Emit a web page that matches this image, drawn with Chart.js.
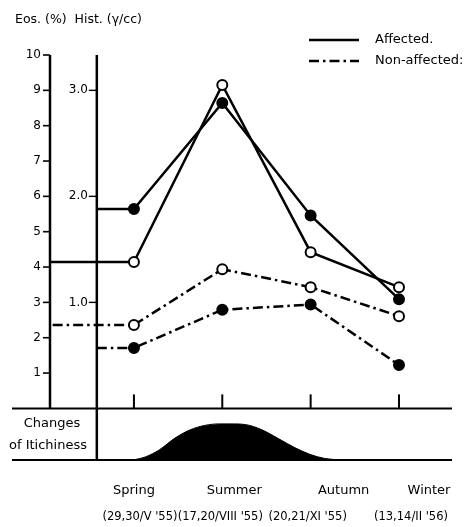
<!DOCTYPE html>
<html><head><meta charset="utf-8">
<script src="https://cdn.jsdelivr.net/npm/chart.js@4.4.1/dist/chart.umd.min.js"></script>
<style>html,body{margin:0;padding:0;background:#fff;overflow:hidden}#wrap{width:473px;height:527px;position:relative}</style>
</head><body><div id="wrap"><canvas id="c" width="473" height="527"></canvas></div>
<script>
// ---- data ----
const categories = ['Spring', 'Summer', 'Autumn', 'Winter'];
const dates = ["(29,30/V '55)", "(17,20/VIII '55)", "(20,21/XI '55)", "(13,14/II '56)"];
const eosAffected = [4.14, 9.15, 4.42, 3.43];      // open circles, Eos (%)
const histAffected = [1.88, 2.88, 1.82, 1.03];     // filled circles, Hist (γ/cc)
const eosNonAffected = [2.36, 3.94, 3.43, 2.61];   // open circles, Eos (%)
const histNonAffected = [0.57, 0.93, 0.98, 0.41];  // filled circles, Hist (γ/cc)
const itchX = [0.99, 1.13, 1.29, 1.46, 1.63, 1.80, 1.97, 2.14, 2.31, 2.48, 2.65, 2.82, 2.99, 3.16, 3.33];
const itchLevel = [0, 0.06, 0.2, 0.42, 0.58, 0.67, 0.70, 0.70, 0.67, 0.56, 0.40, 0.24, 0.11, 0.03, 0];
const eosTicks = [1, 2, 3, 4, 5, 6, 7, 8, 9, 10];
const histTicks = ['1.0', '2.0', '3.0'];
const legendLabels = ['Affected.', 'Non-affected:'];

// ---- layout constants ----
const xMin = 0.05, xMax = 4.6;
const eosMin = -1.46, eosMax = 10;
const histPerEos = 1 / 3;
const histAxisAt = 0.58;            // x value where the Hist. axis stands
const seasonNudge = [0, 12, 33, 30]; // px shift of the season captions (as printed)
const dateNudge = [6, -2, -3, 12];
const FONT = '"DejaVu Sans", sans-serif';
const dashDot = [10, 4, 2.5, 4];

const catX = categories.map((c, i) => i + 1);
function series(vals, startX) {
  return [{x: startX, y: vals[0]}].concat(vals.map((v, i) => ({x: catX[i], y: v})));
}
const hideFirst = ctx => ctx.dataIndex === 0 ? 0 : 5;

const frame = {
  id: 'frame',
  beforeDatasetsDraw(chart) {
    const {ctx, chartArea: a, scales} = chart;
    const ye = scales.yEos, yh = scales.yHist, x = scales.x;
    const y0 = ye.getPixelForValue(0);
    ctx.save();
    ctx.strokeStyle = '#000'; ctx.fillStyle = '#000';
    ctx.lineCap = 'butt';
    // Eos axis
    ctx.lineWidth = 2.5;
    ctx.beginPath(); ctx.moveTo(a.left, ye.getPixelForValue(eosMax)); ctx.lineTo(a.left, y0); ctx.stroke();
    ctx.lineWidth = 1.6;
    ctx.font = '12px ' + FONT; ctx.textAlign = 'right'; ctx.textBaseline = 'middle';
    eosTicks.forEach(t => {
      const py = ye.getPixelForValue(t);
      ctx.beginPath(); ctx.moveTo(a.left - 7, py); ctx.lineTo(a.left, py); ctx.stroke();
      ctx.fillText(String(t), a.left - 9, py);
    });
    // Hist axis
    const hx = x.getPixelForValue(histAxisAt);
    ctx.lineWidth = 2.5;
    ctx.beginPath(); ctx.moveTo(hx, ye.getPixelForValue(eosMax)); ctx.lineTo(hx, a.bottom); ctx.stroke();
    ctx.lineWidth = 1.4;
    ctx.font = '12px ' + FONT;
    histTicks.forEach(t => {
      const py = yh.getPixelForValue(parseFloat(t));
      ctx.beginPath(); ctx.moveTo(hx - 8, py); ctx.lineTo(hx, py); ctx.stroke();
      ctx.fillText(t, hx - 9, py);
    });
    // baseline and bottom line
    ctx.lineWidth = 2;
    ctx.beginPath(); ctx.moveTo(12, y0); ctx.lineTo(a.right, y0); ctx.stroke();
    ctx.beginPath(); ctx.moveTo(12, a.bottom); ctx.lineTo(a.right, a.bottom); ctx.stroke();
    // category ticks
    catX.forEach(v => {
      const px = x.getPixelForValue(v);
      ctx.beginPath(); ctx.moveTo(px, y0); ctx.lineTo(px, y0 - 14); ctx.stroke();
    });
    ctx.restore();
  },
  afterDraw(chart) {
    const {ctx, chartArea: a, scales} = chart;
    const x = scales.x, ye = scales.yEos;
    ctx.save();
    ctx.fillStyle = '#000'; ctx.strokeStyle = '#000';
    // title
    ctx.font = '12.5px ' + FONT; ctx.textAlign = 'left'; ctx.textBaseline = 'middle';
    ctx.fillText('Eos. (%)  Hist. (γ/cc)', 15, 20);
    // category labels
    ctx.textAlign = 'center';
    ctx.font = '13px ' + FONT;
    categories.forEach((c, i) => ctx.fillText(c, x.getPixelForValue(catX[i]) + seasonNudge[i], a.bottom + 31));
    ctx.font = '11.5px ' + FONT;
    dates.forEach((d, i) => ctx.fillText(d, x.getPixelForValue(catX[i]) + dateNudge[i], a.bottom + 57));
    // itchiness label
    const y0 = ye.getPixelForValue(0);
    ctx.font = '13px ' + FONT;
    ctx.fillText('Changes', 52, y0 + 15);
    ctx.fillText('of Itichiness', 48, y0 + 37);
    // legend
    ctx.textAlign = 'left';
    ctx.lineWidth = 2.5;
    [[], dashDot].forEach((dash, i) => {
      const ly = 40 + i * 21;
      ctx.setLineDash(dash);
      ctx.beginPath(); ctx.moveTo(309, ly); ctx.lineTo(359, ly); ctx.stroke();
      ctx.setLineDash([]);
      ctx.font = '13px ' + FONT;
      ctx.fillText(legendLabels[i], 375, ly);
    });
    ctx.restore();
  }
};

const lineBase = {borderColor: '#000', borderWidth: 2.5, pointBorderColor: '#000', pointBorderWidth: 2,
  pointRadius: hideFirst, pointHoverRadius: hideFirst, tension: 0, xAxisID: 'x'};

new Chart(document.getElementById('c'), {
  type: 'line',
  data: {
    datasets: [
      {label: 'Itchiness', data: itchX.map((v, i) => ({x: v, y: itchLevel[i]})), xAxisID: 'x', yAxisID: 'yItch',
        borderColor: '#000', backgroundColor: '#000', borderWidth: 1, pointRadius: 0, fill: {value: 0},
        cubicInterpolationMode: 'monotone'},
      Object.assign({}, lineBase, {label: 'Eos. affected', yAxisID: 'yEos', data: series(eosAffected, xMin),
        pointBackgroundColor: '#fff'}),
      Object.assign({}, lineBase, {label: 'Hist. affected', yAxisID: 'yHist', data: series(histAffected, histAxisAt),
        pointBackgroundColor: '#000'}),
      Object.assign({}, lineBase, {label: 'Eos. non-affected', yAxisID: 'yEos', data: series(eosNonAffected, xMin + 0.03),
        pointBackgroundColor: '#fff', borderDash: dashDot}),
      Object.assign({}, lineBase, {label: 'Hist. non-affected', yAxisID: 'yHist', data: series(histNonAffected, histAxisAt),
        pointBackgroundColor: '#000', borderDash: dashDot})
    ]
  },
  options: {
    responsive: false, animation: false, devicePixelRatio: 1,
    layout: {padding: {left: 50, top: 55, right: 21, bottom: 67}},
    plugins: {legend: {display: false}, tooltip: {enabled: false}},
    scales: {
      x: {type: 'linear', min: xMin, max: xMax, display: false},
      yEos: {type: 'linear', min: eosMin, max: eosMax, display: false},
      yHist: {type: 'linear', min: eosMin * histPerEos, max: eosMax * histPerEos, display: false},
      yItch: {type: 'linear', min: 0, max: (eosMax - eosMin) / (0 - eosMin), display: false}
    }
  },
  plugins: [frame]
});
</script>
</body></html>
